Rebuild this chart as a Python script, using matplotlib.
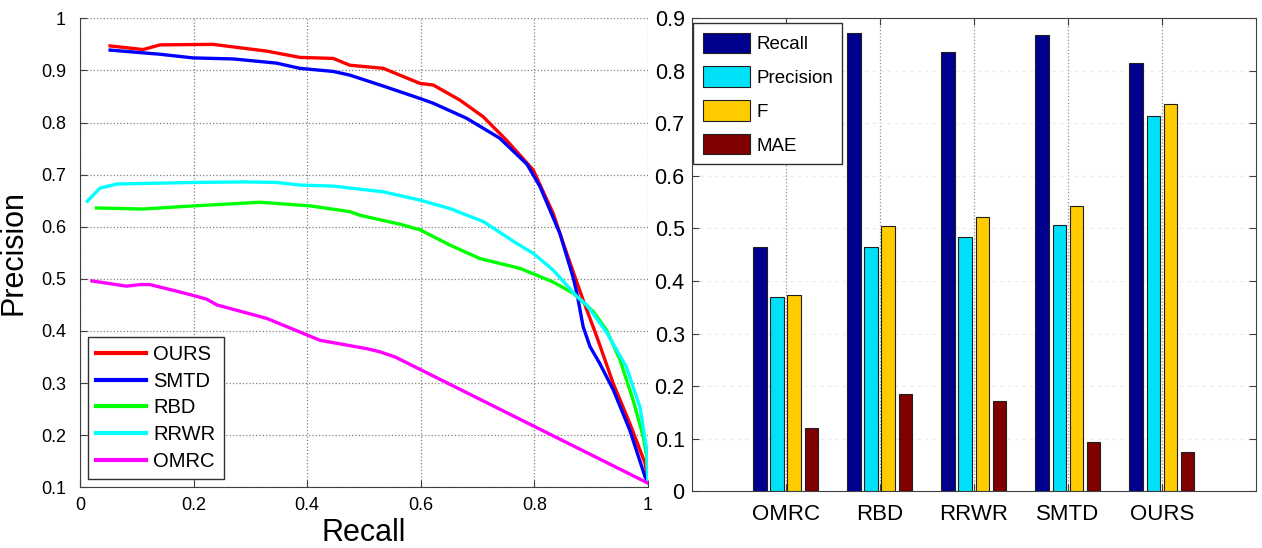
import numpy as np
import matplotlib.pyplot as plt

plt.rcParams['font.family'] = ['Liberation Sans', 'DejaVu Sans']

# --- PR curves, values ---
ours_r = [0.053, 0.111, 0.141, 0.234, 0.329, 0.387, 0.446, 0.475, 0.534, 0.563, 0.599, 0.622,
          0.669, 0.710, 0.751, 0.798, 0.833, 0.857, 0.886, 0.910, 0.939, 0.968, 0.995, 1.0]
ours_p = [0.947, 0.940, 0.949, 0.950, 0.937, 0.925, 0.923, 0.910, 0.904, 0.891, 0.875, 0.872,
          0.843, 0.811, 0.766, 0.709, 0.626, 0.549, 0.459, 0.389, 0.299, 0.223, 0.146, 0.112]

smtd_r = [0.053, 0.141, 0.199, 0.270, 0.346, 0.387, 0.446, 0.475, 0.534, 0.599, 0.622, 0.681,
          0.739, 0.787, 0.810, 0.845, 0.868, 0.875, 0.886, 0.898, 0.915, 0.939, 0.968, 0.995, 1.0]
smtd_p = [0.939, 0.931, 0.924, 0.922, 0.914, 0.904, 0.898, 0.891, 0.870, 0.846, 0.837, 0.808,
          0.770, 0.720, 0.677, 0.587, 0.504, 0.472, 0.408, 0.370, 0.338, 0.287, 0.210, 0.120, 0.110]

rbd_r = [0.029, 0.111, 0.200, 0.317, 0.405, 0.475, 0.493, 0.563, 0.599, 0.651, 0.704, 0.775,
         0.833, 0.869, 0.904, 0.927, 0.951, 0.974, 0.992, 0.998, 1.0]
rbd_p = [0.636, 0.634, 0.640, 0.647, 0.640, 0.629, 0.622, 0.605, 0.594, 0.565, 0.539, 0.520,
         0.494, 0.472, 0.437, 0.402, 0.344, 0.267, 0.196, 0.158, 0.110]

rrwr_r = [0.013, 0.035, 0.065, 0.200, 0.287, 0.346, 0.387, 0.446, 0.534, 0.599, 0.651, 0.710,
          0.769, 0.798, 0.833, 0.857, 0.875, 0.892, 0.927, 0.962, 0.986, 0.998, 1.0]
rrwr_p = [0.649, 0.674, 0.682, 0.685, 0.686, 0.685, 0.680, 0.678, 0.667, 0.651, 0.635, 0.610,
          0.568, 0.549, 0.517, 0.488, 0.466, 0.450, 0.398, 0.331, 0.254, 0.171, 0.110]

omrc_r = [0.021, 0.082, 0.106, 0.123, 0.164, 0.200, 0.223, 0.241, 0.329, 0.387, 0.423, 0.505,
          0.528, 0.555, 1.0]
omrc_p = [0.496, 0.486, 0.489, 0.489, 0.478, 0.468, 0.461, 0.450, 0.424, 0.398, 0.382, 0.366,
          0.360, 0.350, 0.108]

curve_names = ['OURS', 'SMTD', 'RBD', 'RRWR', 'OMRC']
curve_colors = ['#ff0000', '#0000ff', '#00ff00', '#00ffff', '#ff00ff']

# --- bar chart values ---
methods = ['OMRC', 'RBD', 'RRWR', 'SMTD', 'OURS']
recall = [0.464, 0.871, 0.836, 0.867, 0.815]
precision = [0.369, 0.464, 0.483, 0.507, 0.714]
fmeasure = [0.374, 0.505, 0.521, 0.543, 0.736]
mae = [0.121, 0.186, 0.172, 0.094, 0.075]
bar_names = ['Recall', 'Precision', 'F', 'MAE']
bar_colors = ['#00008f', '#00e0f8', '#ffcc00', '#800000']

spine_col = '#404040'

fig = plt.figure(figsize=(12.62, 5.48), dpi=100)
fig.patch.set_facecolor('white')

# ---------------- left: PR curves ----------------
ax1 = fig.add_axes([0.0634, 0.1108, 0.450, 0.8558])
curves = [(ours_r, ours_p), (smtd_r, smtd_p), (rbd_r, rbd_p), (rrwr_r, rrwr_p), (omrc_r, omrc_p)]
for (r, p), name, c in zip(curves, curve_names, curve_colors):
    ax1.plot(r, p, color=c, lw=2.4, label=name, solid_joinstyle='round')

ax1.set_xlim(0, 1)
ax1.set_ylim(0.1, 1)
ax1.set_xticks(np.arange(0, 1.01, 0.2))
ax1.set_xticklabels(['0', '0.2', '0.4', '0.6', '0.8', '1'])
ax1.set_yticks(np.arange(0.1, 1.01, 0.1))
ax1.set_yticklabels(['0.1', '0.2', '0.3', '0.4', '0.5', '0.6', '0.7', '0.8', '0.9', '1'])
ax1.grid(True, ls=':', color='#808080', lw=0.9)
ax1.set_axisbelow(True)
for s in ['top', 'right']:
    ax1.spines[s].set_visible(False)
for s in ['left', 'bottom']:
    ax1.spines[s].set_color(spine_col)
ax1.tick_params(direction='in', length=5, color=spine_col, labelsize=13)
ax1.tick_params(axis='y', pad=10)
ax1.tick_params(axis='x', pad=7)
ax1.set_xlabel('Recall', fontsize=22, labelpad=3)
ax1.set_ylabel('Precision', fontsize=22, labelpad=9)

leg1 = ax1.legend(loc='lower left', bbox_to_anchor=(0.014, 0.018), borderaxespad=0,
                  fontsize=14.5, handlelength=2.5, handletextpad=0.35, labelspacing=0.38,
                  borderpad=0.4, fancybox=False, framealpha=1, edgecolor='#303030')
leg1.get_frame().set_linewidth(1.0)
for h in leg1.get_lines():
    h.set_linewidth(3)

# ---------------- right: bar chart ----------------
ax2 = fig.add_axes([0.548, 0.1033, 0.4473, 0.8639])
x = np.arange(1, len(methods) + 1)
step = 0.182
width = 0.145
series = [recall, precision, fmeasure, mae]
for i, (vals, name, c) in enumerate(zip(series, bar_names, bar_colors)):
    ax2.bar(x + (i - 1.5) * step, vals, width=width, color=c, edgecolor='#202020',
            lw=0.8, label=name, zorder=3)

ax2.set_xlim(0, 6)
ax2.set_ylim(0, 0.9)
ax2.set_xticks(x)
ax2.set_xticklabels(methods)
ax2.set_yticks(np.arange(0, 0.91, 0.1))
ax2.set_yticklabels(['0', '0.1', '0.2', '0.3', '0.4', '0.5', '0.6', '0.7', '0.8', '0.9'])
ax2.grid(True, axis='x', ls=':', color='#909090', lw=0.9, zorder=0)
ax2.grid(True, axis='y', ls=(0, (3, 3)), color='#ececec', lw=0.9, zorder=0)
for s in ax2.spines.values():
    s.set_color(spine_col)
ax2.tick_params(direction='in', length=5, color=spine_col, top=True, right=True)
ax2.tick_params(axis='y', labelsize=15.5, pad=5)
ax2.tick_params(axis='x', labelsize=16, pad=9)

leg2 = ax2.legend(loc='upper left', bbox_to_anchor=(0.003, 0.989), borderaxespad=0,
                  fontsize=13.5, handlelength=2.55, handleheight=1.28, handletextpad=0.3,
                  labelspacing=0.72, borderpad=0.5, fancybox=False, framealpha=1,
                  edgecolor='#303030')
leg2.get_frame().set_linewidth(1.0)

fig.savefig('out.png', dpi=100)
